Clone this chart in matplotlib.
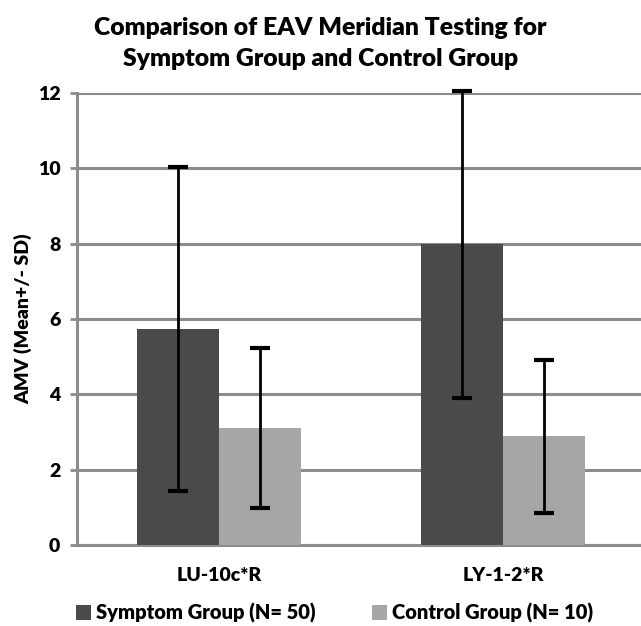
import matplotlib.pyplot as plt
import numpy as np

categories = ["LU-10c*R", "LY-1-2*R"]
symptom_mean = [5.73, 7.98]
symptom_sd = [4.3, 4.07]
control_mean = [3.1, 2.89]
control_sd = [2.12, 2.03]
series_labels = ["Symptom Group (N= 50)", "Control Group (N= 10)"]

dark = "#4a4a4a"
light = "#a6a6a6"
grid = "#8c8c8c"
font = "Lato"

fig = plt.figure(figsize=(6.41, 6.26), dpi=100)
ax = fig.add_axes([77 / 641, 81 / 626, 568 / 641, 452 / 626])

x = np.arange(len(categories))
w = 0.29
err_kw = dict(ecolor="black", elinewidth=2, capsize=7, capthick=3, clip_on=False)
b1 = ax.bar(x - w / 2, symptom_mean, w, color=dark, yerr=symptom_sd,
            error_kw=err_kw, zorder=3, label=series_labels[0])
b2 = ax.bar(x + w / 2, control_mean, w, color=light, yerr=control_sd,
            error_kw=err_kw, zorder=3, label=series_labels[1])

ax.set_xlim(-0.5, 1.5)
ax.set_ylim(0, 12)
ax.set_yticks(range(0, 13, 2))
ax.yaxis.grid(True, color=grid, linewidth=2.2, zorder=0)
ax.set_axisbelow(True)
ax.set_xticks(x)
ax.set_xticklabels(categories)

for s in ["top", "right"]:
    ax.spines[s].set_visible(False)
ax.spines["left"].set_color(grid)
ax.spines["left"].set_linewidth(2.2)
ax.spines["bottom"].set_color(grid)
ax.spines["bottom"].set_linewidth(2.2)
ax.tick_params(axis="y", length=5, width=2, color=grid, pad=7)
ax.tick_params(axis="x", length=0, pad=16)
for lab in ax.get_yticklabels() + ax.get_xticklabels():
    lab.set_fontfamily(font)
    lab.set_fontweight("heavy")
    lab.set_fontsize(14)

ax.set_ylabel("AMV (Mean+/- SD)", fontfamily=font, fontweight="heavy",
              fontsize=14, labelpad=4)

fig.text(0.5, 0.93, "Comparison of EAV Meridian Testing for\nSymptom Group and Control Group",
         ha="center", va="center", fontfamily=font, fontweight="heavy",
         fontsize=17.8, linespacing=1.5)

fig.legend(handles=[b1, b2], loc="center", bbox_to_anchor=(0.522, 0.021),
           ncol=2, frameon=False, handlelength=0.75, handleheight=0.75,
           handletextpad=0.25, columnspacing=2.8, borderpad=0,
           prop=dict(family=font, weight="heavy", size=14.5))

plt.savefig("out.png", dpi=100)
